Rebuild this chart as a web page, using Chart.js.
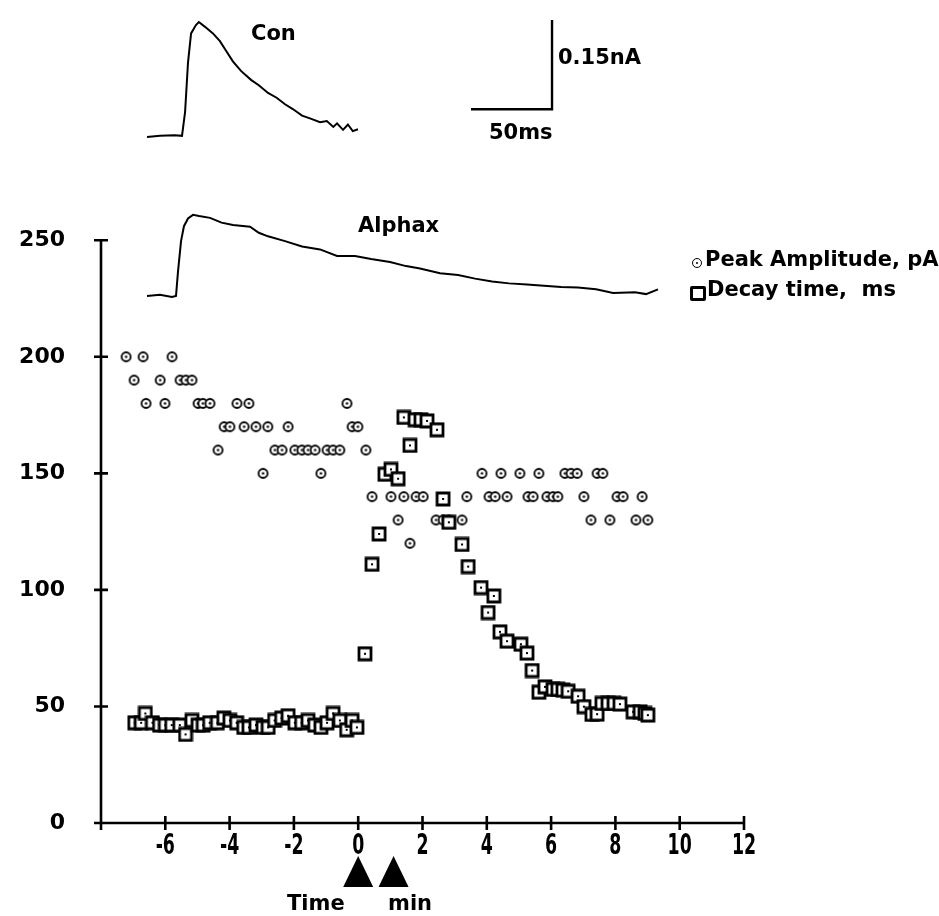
<!DOCTYPE html>
<html>
<head>
<meta charset="utf-8">
<script src="https://cdn.jsdelivr.net/npm/chart.js@4.4.0/dist/chart.umd.min.js"></script>
<style>
  body { margin: 0; background: #fff; }
  #wrap { position: relative; width: 939px; height: 916px; }
  .lbl { position: absolute; font-family: "DejaVu Sans", sans-serif; font-weight: bold; font-size: 21px; line-height: 1; color: #000; white-space: pre; }
  .mk-circle { position: absolute; width: 8px; height: 8px; border: 1.5px solid #000; border-radius: 50%; background: #fff; }
  .mk-circle::after { content: ""; position: absolute; left: 3px; top: 3px; width: 2px; height: 2px; background: #000; border-radius: 50%; }
  .mk-square { position: absolute; width: 10px; height: 9px; border: 3px solid #000; border-radius: 2px; background: #fff; }
</style>
</head>
<body>
<div id="wrap">
  <canvas id="chart" width="939" height="916"></canvas>
  <div class="lbl" style="left:251px; top:23px;">Con</div>
  <div class="lbl" style="left:358px; top:215px;">Alphax</div>
  <div class="lbl" style="left:558px; top:47px;">0.15nA</div>
  <div class="lbl" style="left:489px; top:122px;">50ms</div>
  <span class="mk-circle" style="left:692px; top:258px;"></span>
  <div class="lbl" style="left:705px; top:249px;">Peak Amplitude, pA</div>
  <span class="mk-square" style="left:690px; top:286px;"></span>
  <div class="lbl" style="left:707px; top:279px;">Decay time,  ms</div>
  <div class="lbl" style="left:287px; top:893px;">Time</div>
  <div class="lbl" style="left:388px; top:893px;">min</div>
</div>
<script>
// axis ticks
const xTickValues = [-6, -4, -2, 0, 2, 4, 6, 8, 10, 12];
const yTickValues = [0, 50, 100, 150, 200, 250];

// drug application (min)
const applicationTimes = [0, 1.1];

// peak amplitude, pA
const ampTime = [-7.22, -6.97, -6.69, -6.60, -6.16, -6.01, -5.79, -5.54, -5.36, -5.17,
  -4.98, -4.83, -4.61, -4.36, -4.17, -3.99, -3.77, -3.55, -3.40, -3.18,
  -2.96, -2.81, -2.59, -2.37, -2.18, -1.97, -1.75, -1.56, -1.34, -1.16,
  -0.97, -0.78, -0.57, -0.35, -0.19, -0.01, 0.24, 0.43, 1.02, 1.24,
  1.42, 1.61, 1.80, 2.02, 2.42, 2.64, 2.82, 3.23, 3.38, 3.85,
  4.07, 4.26, 4.44, 4.63, 5.03, 5.28, 5.44, 5.62, 5.87, 6.06,
  6.21, 6.43, 6.62, 6.81, 7.02, 7.24, 7.43, 7.61, 7.83, 8.05,
  8.24, 8.64, 8.83, 9.01];
const ampValue = [200, 190, 200, 180, 190, 180, 200, 190, 190, 190,
  180, 180, 180, 160, 170, 170, 180, 170, 180, 170,
  150, 170, 160, 160, 170, 160, 160, 160, 160, 150,
  160, 160, 160, 180, 170, 170, 160, 140, 140, 130,
  140, 120, 140, 140, 130, 130, 130, 130, 140, 150,
  140, 140, 150, 140, 150, 140, 140, 150, 140, 140,
  140, 150, 150, 150, 140, 130, 150, 150, 130, 140,
  140, 130, 140, 130];

// decay time, ms
const decayTime = [-6.95, -6.75, -6.62, -6.40, -6.18, -6.00, -5.80, -5.55, -5.37, -5.17,
  -4.98, -4.82, -4.62, -4.38, -4.18, -3.99, -3.78, -3.56, -3.40, -3.18,
  -2.96, -2.80, -2.60, -2.38, -2.18, -1.97, -1.76, -1.56, -1.35, -1.16,
  -0.97, -0.78, -0.57, -0.36, -0.19, -0.04,
  0.21, 0.43, 0.65, 0.83, 1.02, 1.24, 1.42, 1.61, 1.77, 1.95,
  2.14, 2.45, 2.64, 2.82, 3.23, 3.42, 3.82, 4.04, 4.22, 4.41,
  4.63, 5.06, 5.25, 5.41, 5.62, 5.81, 6.06, 6.21, 6.37, 6.53,
  6.84, 7.02, 7.27, 7.43, 7.58, 7.77, 7.96, 8.14, 8.55, 8.77,
  8.92, 9.01];
const decayValue = [43, 43, 47, 43, 42, 42, 42, 42, 38, 44,
  42, 42, 43, 43, 45, 44, 43, 41, 41, 42,
  41, 41, 44, 45, 46, 43, 43, 44, 42, 41,
  43, 47, 44, 40, 44, 41,
  72.6, 111, 124, 149.6, 151.7, 147.7, 174, 162, 173, 173,
  172.5, 168.7, 139, 129, 119.5, 110, 101, 90.3, 97.4, 82,
  78, 76.7, 72.9, 65.4, 56.1, 58.4, 57.3, 57.3, 57, 56.5,
  54.4, 49.9, 46.6, 46.7, 51.3, 51.3, 51.3, 51, 47.7, 47.7,
  47, 46.3];

// current traces: time (ms) and current above baseline (nA)
const conMs = [0, 8, 17, 21.6, 23.5, 25.3, 27.2, 30.2, 32, 35.8, 40.7, 45, 49, 53, 58, 64.2,
  69, 74.7, 80, 85.2, 90, 95.7, 101, 106.8, 111, 115, 117.3, 121, 124, 127, 130.2];
const conNa = [0, 0.002, 0.003, 0.002, 0.042, 0.125, 0.174, 0.188, 0.193, 0.185, 0.174, 0.161, 0.144, 0.127, 0.111, 0.096,
  0.087, 0.074, 0.066, 0.055, 0.047, 0.036, 0.031, 0.025, 0.027, 0.017, 0.023, 0.012, 0.021, 0.01, 0.013];
const alphaxMs = [0, 8, 15.4, 17.9, 19.1, 21, 22.8, 25.3, 28.4, 32.1, 38.9, 46, 53.1, 63.6, 69, 74.7,
  85.2, 95.7, 106.8, 117.3, 128.4, 138.3, 150, 159.9, 168.5, 180.9, 192, 202.5, 213, 223.5,
  234.6, 245, 255.6, 266, 277.2, 287.7, 301.2, 308, 315.4];
const alphaxNa = [0, 0.002, -0.002, 0, 0.04, 0.092, 0.117, 0.13, 0.136, 0.134, 0.131, 0.123, 0.119, 0.116, 0.106, 0.1,
  0.092, 0.083, 0.078, 0.067, 0.067, 0.062, 0.057, 0.05, 0.046, 0.038, 0.035, 0.029, 0.024, 0.021,
  0.019, 0.017, 0.015, 0.014, 0.011, 0.005, 0.006, 0.003, 0.011];

// calibration bar
const barMs = 50;
const barNa = 0.15;
const barStartMs = 200;
const barBaseNa = 0.0467;

function zip(xs, ys) { return xs.map((x, i) => ({ x: x, y: ys[i] })); }

function circleImg() {
  const c = document.createElement('canvas');
  c.width = 13; c.height = 13;
  const g = c.getContext('2d');
  g.fillStyle = '#fff'; g.strokeStyle = '#000'; g.lineWidth = 1.8;
  g.beginPath(); g.arc(6.5, 6.5, 4.5, 0, Math.PI * 2); g.fill(); g.stroke();
  g.fillStyle = '#000';
  g.beginPath(); g.arc(6.5, 6.5, 1.2, 0, Math.PI * 2); g.fill();
  return c;
}
function squareImg() {
  const c = document.createElement('canvas');
  c.width = 16; c.height = 16;
  const g = c.getContext('2d');
  g.fillStyle = '#fff'; g.strokeStyle = '#000'; g.lineWidth = 2.8;
  g.beginPath(); g.rect(2, 2, 12, 12); g.fill(); g.stroke();
  g.fillStyle = '#000'; g.fillRect(7, 7, 2, 2);
  return c;
}

const axesPlugin = {
  id: 'axesPlugin',
  beforeDatasetsDraw(chart) {
    const c = chart.ctx, xs = chart.scales.x, ys = chart.scales.y;
    const y0 = ys.getPixelForValue(0), x0 = xs.getPixelForValue(-8);
    c.save();
    c.strokeStyle = '#000'; c.lineWidth = 2.6; c.lineCap = 'butt';
    c.beginPath();
    c.moveTo(x0 - 3, y0); c.lineTo(xs.getPixelForValue(12), y0);
    c.moveTo(x0, y0 + 7); c.lineTo(x0, ys.getPixelForValue(250));
    xTickValues.forEach(v => { const p = xs.getPixelForValue(v); c.moveTo(p, y0 - 7); c.lineTo(p, y0 + 7); });
    yTickValues.forEach(v => { const p = ys.getPixelForValue(v); c.moveTo(x0 - 7, p); c.lineTo(x0 + 7, p); });
    c.stroke();
    // x tick labels, narrow type like the original
    c.fillStyle = '#000';
    c.font = 'bold 28px "DejaVu Sans", sans-serif';
    c.textAlign = 'center';
    c.textBaseline = 'alphabetic';
    xTickValues.forEach(v => {
      c.save();
      c.translate(xs.getPixelForValue(v), y0 + 31);
      c.scale(0.62, 1);
      c.fillText(String(v), 0, 0);
      c.restore();
    });
    // application arrows
    applicationTimes.forEach(t => {
      const p = xs.getPixelForValue(t);
      c.beginPath();
      c.moveTo(p, y0 + 33); c.lineTo(p + 15, y0 + 64); c.lineTo(p - 15, y0 + 64); c.closePath();
      c.fill();
    });
    c.restore();
  }
};

const traceStyle = { showLine: true, pointRadius: 0, borderColor: '#000', borderWidth: 2, fill: false, tension: 0 };

new Chart(document.getElementById('chart'), {
  type: 'scatter',
  data: {
    datasets: [
      Object.assign({ label: 'Con', data: zip(conMs, conNa), xAxisID: 'tx', yAxisID: 'cy', order: 5 }, traceStyle),
      Object.assign({ label: 'Alphax', data: zip(alphaxMs, alphaxNa), xAxisID: 'tx', yAxisID: 'ay', order: 4 }, traceStyle),
      Object.assign({ label: 'bar', xAxisID: 'tx', yAxisID: 'cy', order: 3,
        data: [{ x: barStartMs, y: barBaseNa }, { x: barStartMs + barMs, y: barBaseNa }, { x: barStartMs + barMs, y: barBaseNa + barNa }] },
        traceStyle, { borderWidth: 2.4 }),
      { label: 'Peak Amplitude, pA', data: zip(ampTime, ampValue), pointStyle: circleImg(), pointRadius: 5, order: 2 },
      { label: 'Decay time, ms', data: zip(decayTime, decayValue), pointStyle: squareImg(), pointRadius: 5, order: 1 }
    ]
  },
  options: {
    responsive: false,
    animation: false,
    layout: { padding: { left: 0, right: 195, top: 0, bottom: 0 } },
    plugins: { legend: { display: false }, tooltip: { enabled: false } },
    scales: {
      x: {
        type: 'linear', min: -8, max: 12,
        afterBuildTicks: s => { s.ticks = xTickValues.map(v => ({ value: v })); },
        afterFit: s => { s.height = 93; s.paddingLeft = 0; s.paddingRight = 0; },
        grid: { display: false, drawTicks: false },
        border: { display: false },
        ticks: { display: false }
      },
      y: {
        type: 'linear', min: 0, max: 350.5,
        afterBuildTicks: s => { s.ticks = yTickValues.map(v => ({ value: v })); },
        afterFit: s => { s.width = 101; s.paddingTop = 0; s.paddingBottom = 0; },
        grid: { display: false, drawTicks: false },
        border: { display: false },
        ticks: { color: '#000', padding: 36,
          font: { family: '"DejaVu Sans", sans-serif', weight: 'bold', size: 22 } }
      },
      tx: { type: 'linear', axis: 'x', position: 'bottom', display: false, min: -28.4, max: 368.5 },
      cy: { type: 'linear', axis: 'y', position: 'left', display: false, min: -1.1517, max: 0.22 },
      ay: { type: 'linear', axis: 'y', position: 'left', display: false, min: -0.885, max: 0.4867 }
    }
  },
  plugins: [axesPlugin]
});
</script>
</body>
</html>
